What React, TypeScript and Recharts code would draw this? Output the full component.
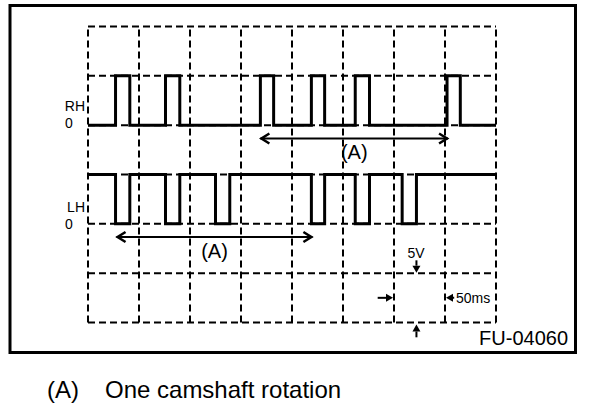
import { LineChart, Line, XAxis, YAxis, ReferenceLine } from 'recharts';

// grid divisions: 50 ms per column, 5 V per row
const timeTicks = [0, 50, 100, 150, 200, 250, 300, 350, 400];
const voltTicks = [0, 5, 10, 15, 20, 25, 30];

// pulse [start, end] times in ms
const rhPulses = [[27, 41], [76, 90], [169, 182], [219, 232], [262, 276], [352, 365]];
const lhPulses = [[27, 41], [76, 90], [125, 139], [219, 232], [262, 276], [308, 322]];

// [base, pulse] levels on the screen (RH trace pulses up, LH trace pulses down)
const rhLevels = [20, 25];
const lhLevels = [15, 10];

// one camshaft rotation: [start ms, end ms, level]
const rhRotation = [169, 353, 18.65];
const lhRotation = [28, 220, 8.67];

// scale markers: [x1, y1, x2, y2] with the tip at (x2, y2)
const voltMarkers = [[322, 6.3, 322, 5.05], [322, -1.5, 322, -0.2]];
const timeMarkers = [[284, 2.5, 299, 2.5], [359, 2.5, 351, 2.5]];

const FONT = '"Liberation Sans", Arial, Helvetica, sans-serif';

const buildWave = (pulses: number[][], levels: number[]) => {
  const [base, peak] = levels;
  const pts = [{ t: 0, v: base }];
  pulses.forEach(([a, b]) => {
    pts.push({ t: a, v: base }, { t: a, v: peak }, { t: b, v: peak }, { t: b, v: base });
  });
  pts.push({ t: 400, v: base });
  return pts;
};

const rhWave = buildWave(rhPulses, rhLevels);
const lhWave = buildWave(lhPulses, lhLevels);

// double headed span arrow with the "(A)" label below it
const SpanArrow = ({ x1, y1, x2, y2 }: any) => (
  <g>
    <line x1={x1} y1={y1} x2={x2} y2={y2} stroke="#000" strokeWidth={2} />
    <polyline points={`${x1 + 9},${y1 - 5} ${x1 + 1},${y1} ${x1 + 9},${y1 + 5}`} fill="none" stroke="#000" strokeWidth={2.5} />
    <polyline points={`${x2 - 9},${y2 - 5} ${x2 - 1},${y2} ${x2 - 9},${y2 + 5}`} fill="none" stroke="#000" strokeWidth={2.5} />
    <text x={(x1 + x2) / 2} y={y1 + 21} textAnchor="middle" fontSize={20} fontFamily={FONT} fill="#000">
      (A)
    </text>
  </g>
);

// small arrow with a filled head
const Pointer = ({ x1, y1, x2, y2 }: any) => {
  const dx = x2 - x1;
  const dy = y2 - y1;
  const len = Math.hypot(dx, dy) || 1;
  const ux = dx / len;
  const uy = dy / len;
  const bx = x2 - ux * 7;
  const by = y2 - uy * 7;
  return (
    <g>
      <line x1={x1} y1={y1} x2={bx} y2={by} stroke="#000" strokeWidth={2} />
      <polygon points={`${x2},${y2} ${bx - uy * 4},${by + ux * 4} ${bx + uy * 4},${by - ux * 4}`} fill="#000" />
    </g>
  );
};

export default function App() {
  return (
    <div style={{ position: 'absolute', left: 0, top: 0, width: 608, height: 412, background: '#fff' }}>
      <LineChart width={608} height={412} margin={{ top: 26.5, left: 88, right: 112, bottom: 89.5 }}>
        <XAxis type="number" dataKey="t" domain={[0, 400]} ticks={timeTicks} hide allowDataOverflow />
        <YAxis type="number" dataKey="v" domain={[0, 30]} ticks={voltTicks} hide allowDataOverflow />
        {timeTicks.map((t) => (
          <ReferenceLine key={`vx${t}`} x={t} stroke="#000" strokeWidth={2} strokeDasharray="7 4" />
        ))}
        {voltTicks.map((v) => (
          <ReferenceLine key={`hy${v}`} y={v} stroke="#000" strokeWidth={2} strokeDasharray="7 4" />
        ))}
        <Line data={rhWave} dataKey="v" type="linear" stroke="#000" strokeWidth={3} dot={false} activeDot={false} isAnimationActive={false} />
        <Line data={lhWave} dataKey="v" type="linear" stroke="#000" strokeWidth={3} dot={false} activeDot={false} isAnimationActive={false} />
        {[rhRotation, lhRotation].map(([a, b, lvl], i) => (
          <ReferenceLine
            key={`rot${i}`}
            segment={[{ x: a, y: lvl }, { x: b, y: lvl }]}
            ifOverflow="visible"
            shape={(p: any) => <SpanArrow {...p} />}
          />
        ))}
        {[...voltMarkers, ...timeMarkers].map(([xa, ya, xb, yb], i) => (
          <ReferenceLine
            key={`mk${i}`}
            segment={[{ x: xa, y: ya }, { x: xb, y: yb }]}
            ifOverflow="visible"
            shape={(p: any) => <Pointer {...p} />}
          />
        ))}
      </LineChart>
      <svg width={608} height={412} style={{ position: 'absolute', left: 0, top: 0, pointerEvents: 'none' }}>
        <rect x={10} y={5.5} width={565.5} height={347} fill="none" stroke="#000" strokeWidth={3} />
        <g fontFamily={FONT} fill="#000">
          <text x={85} y={111} fontSize={14} textAnchor="end">RH</text>
          <text x={65} y={128} fontSize={14}>0</text>
          <text x={85} y={212} fontSize={14} textAnchor="end">LH</text>
          <text x={65} y={229} fontSize={14}>0</text>
          <text x={416} y={258} fontSize={14} textAnchor="middle">5V</text>
          <text x={456} y={303} fontSize={14}>50ms</text>
          <text x={568} y={345} fontSize={20} textAnchor="end">FU-04060</text>
          <text x={47} y={398} fontSize={24}>(A)</text>
          <text x={105} y={398} fontSize={24}>One camshaft rotation</text>
        </g>
      </svg>
    </div>
  );
}
